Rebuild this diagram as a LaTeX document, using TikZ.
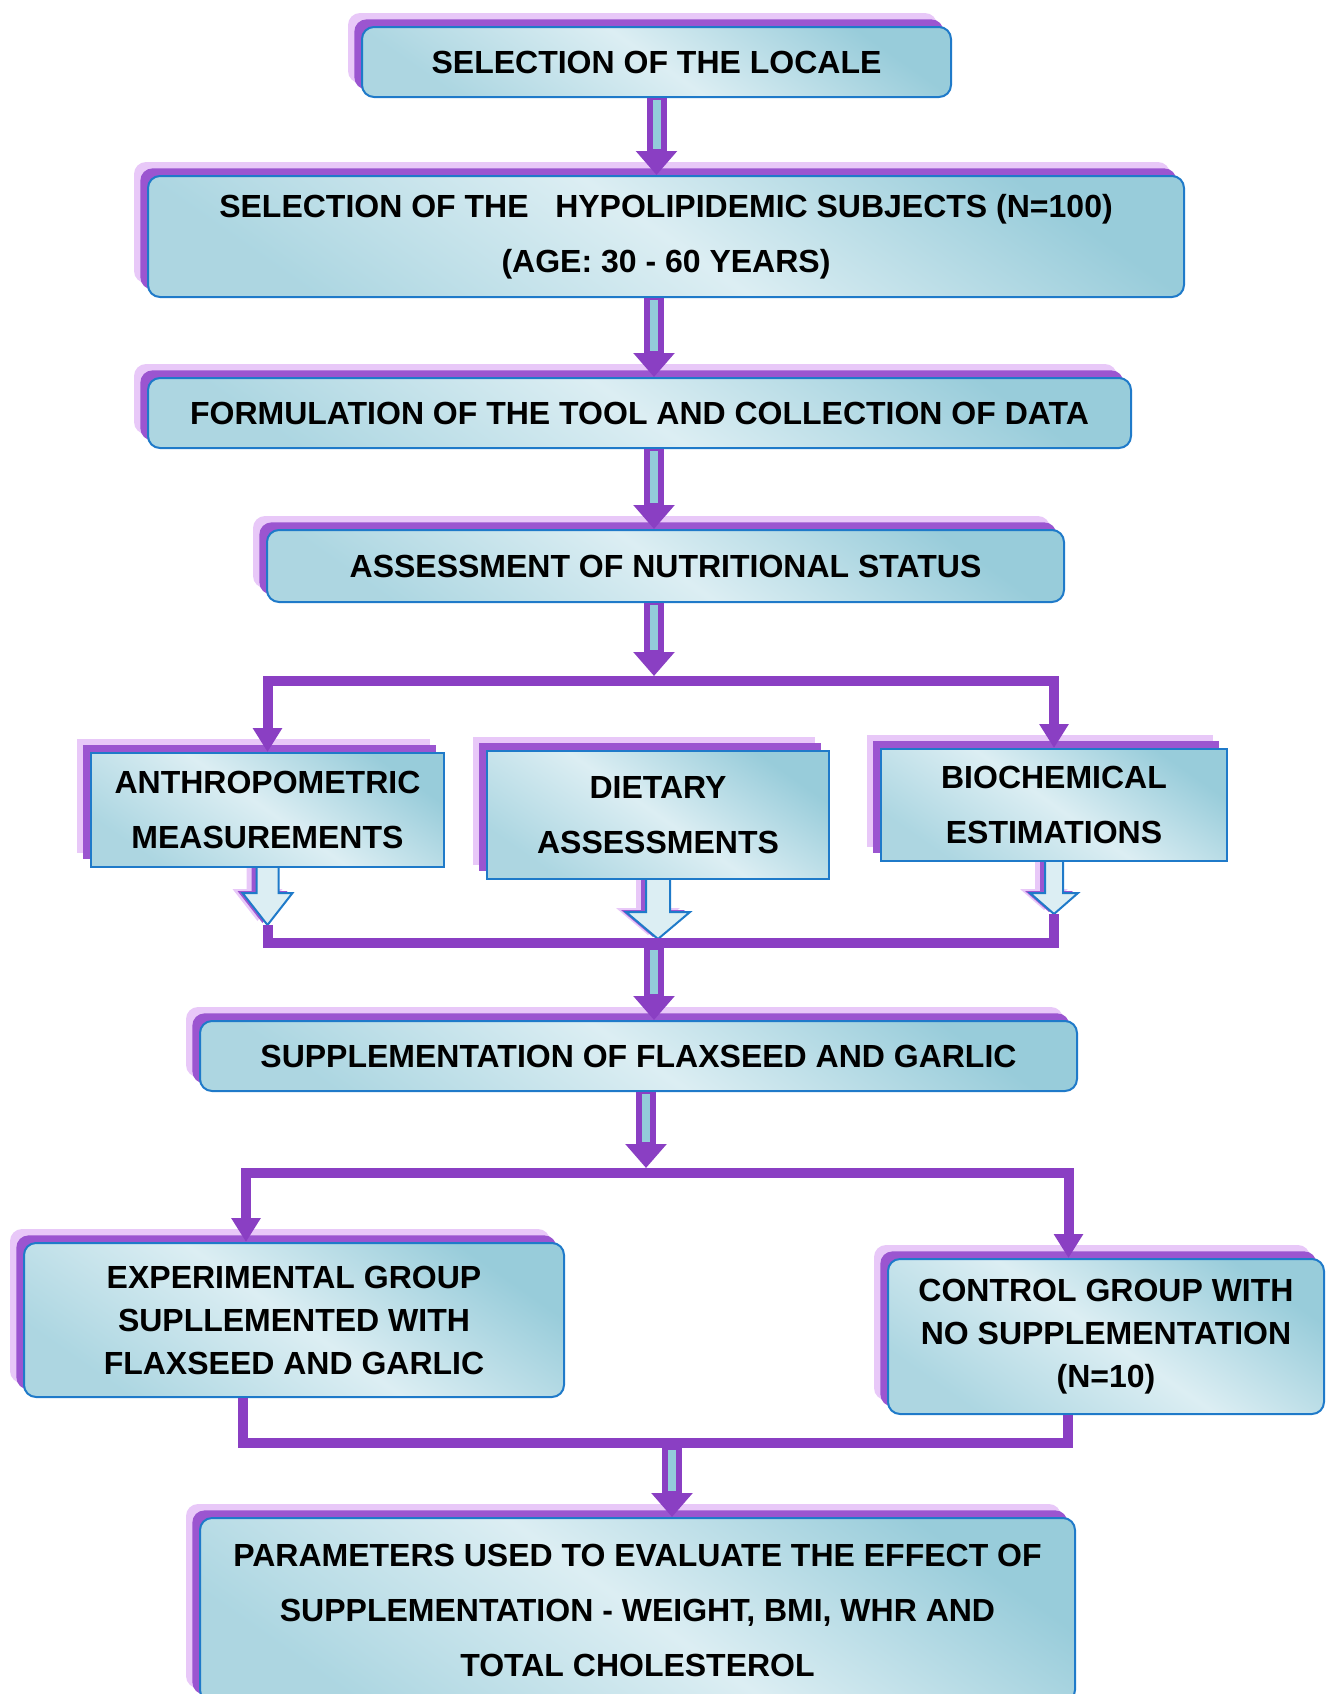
\documentclass[tikz,border=0pt]{standalone}
\usepackage{fontspec}
\setmainfont{Liberation Sans}
\usetikzlibrary{arrows.meta, shadows, backgrounds}

\definecolor{boxline}{HTML}{1F7AC9}
\definecolor{boxlight}{HTML}{DCEEF3}
\definecolor{boxdark}{HTML}{98CCDA}
\definecolor{shadepur}{HTML}{9B55D0}
\definecolor{shadelav}{HTML}{E8C8F8}
\definecolor{linepur}{HTML}{8A3FC3}
\definecolor{arrowteal}{HTML}{93CCDA}

\tikzset{
  box/.style={draw=boxline, line width=1pt, rounded corners=6pt,
    top color=boxdark, bottom color=boxdark!80, middle color=boxlight, shading angle=-35,
    general shadow={shadow xshift=-7pt, shadow yshift=7pt, fill=shadelav},
    general shadow={shadow xshift=-3.8pt, shadow yshift=3.8pt, fill=shadepur},
    font=\bfseries\fontsize{16}{27.5}\selectfont, align=center, inner sep=0pt},
  sqbox/.style={box, sharp corners},
  tightlines/.style={font=\bfseries\fontsize{16}{21.5}\selectfont},
  branch/.style={draw=linepur, line width=5pt},
  tipdown/.style={-{Triangle[length=12pt, width=14pt]}},
  fatarrow/.style={draw=linepur, line width=10pt, -{Triangle[length=12pt, width=20pt]},
    postaction={draw=arrowteal, line width=4pt, -, shorten >=13pt, shorten <=1pt}},
  hollow/.style={draw=boxline, line width=1pt, fill=boxlight,
    general shadow={shadow xshift=-5pt, shadow yshift=2pt, fill=shadelav},
    general shadow={shadow xshift=-2.5pt, shadow yshift=1pt, fill=shadepur}}
}

\begin{document}
\begin{tikzpicture}[x=0.5pt, y=-0.5pt]
  \useasboundingbox (0,0) rectangle (1326,1694);

  % Boxes
  \node[box, minimum width=294.5pt, minimum height=35pt] (locale) at (656.5,62) {SELECTION OF THE LOCALE};
  \node[box, minimum width=518pt, minimum height=60.5pt] (subjects) at (666,236.5) {SELECTION OF THE\ \ \ HYPOLIPIDEMIC SUBJECTS (N=100)\\(AGE: 30 - 60 YEARS)};
  \node[box, minimum width=491.5pt, minimum height=35pt] (tool) at (639.5,413) {FORMULATION OF THE TOOL AND COLLECTION OF DATA};
  \node[box, minimum width=398.5pt, minimum height=36pt] (assess) at (665.5,566) {ASSESSMENT OF NUTRITIONAL STATUS};
  \node[sqbox, minimum width=176.5pt, minimum height=57pt] (anthro) at (267.5,810) {ANTHROPOMETRIC\\MEASUREMENTS};
  \node[sqbox, minimum width=171pt, minimum height=64pt] (diet) at (658,815) {DIETARY\\ASSESSMENTS};
  \node[sqbox, minimum width=173pt, minimum height=56pt] (biochem) at (1054,805) {BIOCHEMICAL\\ESTIMATIONS};
  \node[box, minimum width=438.5pt, minimum height=35pt] (supp) at (638.5,1056) {SUPPLEMENTATION OF FLAXSEED AND GARLIC};
  \node[box, tightlines, minimum width=270pt, minimum height=77pt] (exper) at (294,1320) {EXPERIMENTAL GROUP\\SUPLLEMENTED WITH\\FLAXSEED AND GARLIC};
  \node[box, tightlines, minimum width=218pt, minimum height=77.5pt] (control) at (1106,1336.5) {CONTROL GROUP WITH\\NO SUPPLEMENTATION\\(N=10)};
  \node[box, minimum width=437.5pt, minimum height=92pt] (params) at (637.5,1610) {PARAMETERS USED TO EVALUATE THE EFFECT OF\\SUPPLEMENTATION - WEIGHT, BMI, WHR AND\\TOTAL CHOLESTEROL};

  \coordinate (split1) at (654,681);
  \coordinate (join) at (654,943);
  \coordinate (split2) at (646,1173);
  \coordinate (merge) at (672,1443);
  \coordinate (anthroTip) at ([yshift=-28.5pt]anthro.south);
  \coordinate (bioTip) at ([yshift=-26pt]biochem.south);

  % hollow arrows under the three boxes
  \begin{scope}[on background layer]
    \draw[hollow, shift={(anthro.south)}] (-11,0) -- (-11,25) -- (-25,25) -- (0,57) -- (25,25) -- (11,25) -- (11,0);
    \draw[hollow, shift={(diet.south)}] (-12,0) -- (-12,32) -- (-32,32) -- (0,59) -- (32,32) -- (12,32) -- (12,0);
    \draw[hollow, shift={(biochem.south)}] (-9,0) -- (-9,31) -- (-24,31) -- (0,52) -- (24,31) -- (9,31) -- (9,0);
    \draw[branch] (anthroTip) |- (join) -| (bioTip);
  \end{scope}

  % Edges
  \draw[branch, tipdown] (split1) -| (anthro.north);
  \draw[branch, tipdown] (split1) -| (biochem.north);
  \draw[branch, tipdown] (split2) -| ([xshift=-24pt]exper.north);
  \draw[branch, tipdown] (split2) -| ([xshift=-18.75pt]control.north);
  \draw[branch] ([xshift=-25.5pt]exper.south) |- (merge) -| ([xshift=-19pt]control.south);

  \draw[fatarrow] (locale.south) -- (locale.south |- subjects.north);
  \draw[fatarrow] (split1 |- subjects.south) -- (split1 |- tool.north);
  \draw[fatarrow] (split1 |- tool.south) -- (split1 |- assess.north);
  \draw[fatarrow] (split1 |- assess.south) -- ([yshift=2.5pt]split1);
  \draw[fatarrow] ([yshift=-2.5pt]join) -- (join |- supp.north);
  \draw[fatarrow] (split2 |- supp.south) -- ([yshift=2.5pt]split2);
  \draw[fatarrow] ([yshift=-2.5pt]merge) -- (merge |- params.north);
\end{tikzpicture}
\end{document}
